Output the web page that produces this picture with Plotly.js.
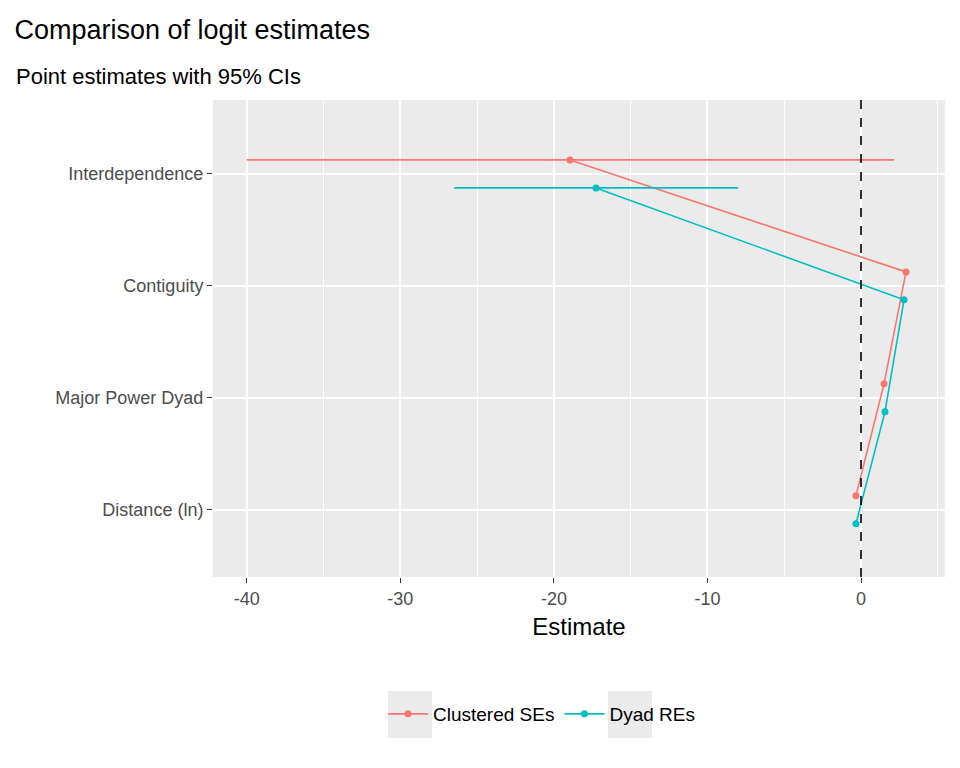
<!DOCTYPE html>
<html><head><script src="https://cdn.plot.ly/plotly-3.0.1.min.js"></script></head>
<body style="margin:0"><div id="c" style="width:960px;height:768px"></div>
<script>
const categories = ["Interdependence","Contiguity","Major Power Dyad","Distance (ln)"];
const clusEst = [-18.95, 2.93, 1.5, -0.33];
const clusLo = [-40.0, 2.75, 1.35, -0.4];
const clusHi = [2.15, 3.1, 1.65, -0.26];
const dyadEst = [-17.26, 2.8, 1.56, -0.33];
const dyadLo = [-26.5, 2.65, 1.4, -0.4];
const dyadHi = [-8.0, 2.95, 1.72, -0.26];
const pos = categories.map((c,i)=>categories.length-i);
function tr(name, est, lo, hi, off, col){
  return {type:'scatter', mode:'lines+markers', name:name, x:est, y:pos.map(p=>p+off),
    line:{color:col,width:1.6}, marker:{color:col,size:7},
    error_x:{type:'data', symmetric:false, array:est.map((e,i)=>hi[i]-e),
      arrayminus:est.map((e,i)=>e-lo[i]), width:0, color:col, thickness:1.6}};
}
const data=[tr('Clustered SEs',clusEst,clusLo,clusHi,0.125,'#F8766D'),
            tr('Dyad REs',dyadEst,dyadLo,dyadHi,-0.125,'#00BFC4')];
const layout={width:960,height:768,margin:{l:213,r:15,t:100,b:191},
  paper_bgcolor:'white',plot_bgcolor:'#EBEBEB',showlegend:true,
  font:{family:'Liberation Sans, Arial',color:'#4D4D4D',size:18},
  title:{text:'Comparison of logit estimates',x:0.015,xanchor:'left',y:1-30/768,yanchor:'middle',font:{size:27,color:'black'}},
  annotations:[{text:'Point estimates with 95% CIs',xref:'paper',yref:'paper',x:-0.272,xanchor:'left',y:(577-76)/477,yanchor:'middle',showarrow:false,font:{size:22,color:'black'}}],
  xaxis:{range:[-42.2,5.47],tickvals:[-40,-30,-20,-10,0],ticktext:['-40','-30','-20','-10','0'],
    gridcolor:'white',gridwidth:1.6,zeroline:false,ticks:'outside',ticklen:5,tickcolor:'#333',
    minor:{tickvals:[-35,-25,-15,-5,5],gridcolor:'white',gridwidth:0.6,showgrid:true},
    title:{text:'Estimate',font:{size:24,color:'black'},standoff:10}},
  yaxis:{range:[0.4,4.66],tickvals:pos,ticktext:categories,gridcolor:'white',gridwidth:1.6,
    zeroline:false,ticks:'outside',ticklen:5,tickcolor:'#333'},
  shapes:[{type:'line',xref:'x',yref:'paper',x0:0,x1:0,y0:0,y1:1,line:{color:'black',width:1.6,dash:'dash'}},
    {type:'rect',xref:'paper',yref:'paper',x0:(388-213)/732,x1:(432-213)/732,y0:-(691-577)/477,y1:-(738-577)/477,fillcolor:'#EBEBEB',line:{width:0},layer:'below'},
    {type:'rect',xref:'paper',yref:'paper',x0:(608-213)/732,x1:(652-213)/732,y0:-(691-577)/477,y1:-(738-577)/477,fillcolor:'#EBEBEB',line:{width:0},layer:'below'}],
  legend:{orientation:'h',x:(383-213)/732,xanchor:'left',y:-(714-577)/477,yanchor:'middle',
    bgcolor:'rgba(0,0,0,0)',font:{size:19,color:'black'},itemwidth:40}
};
Plotly.newPlot('c',data,layout,{displayModeBar:false});
</script></body></html>
